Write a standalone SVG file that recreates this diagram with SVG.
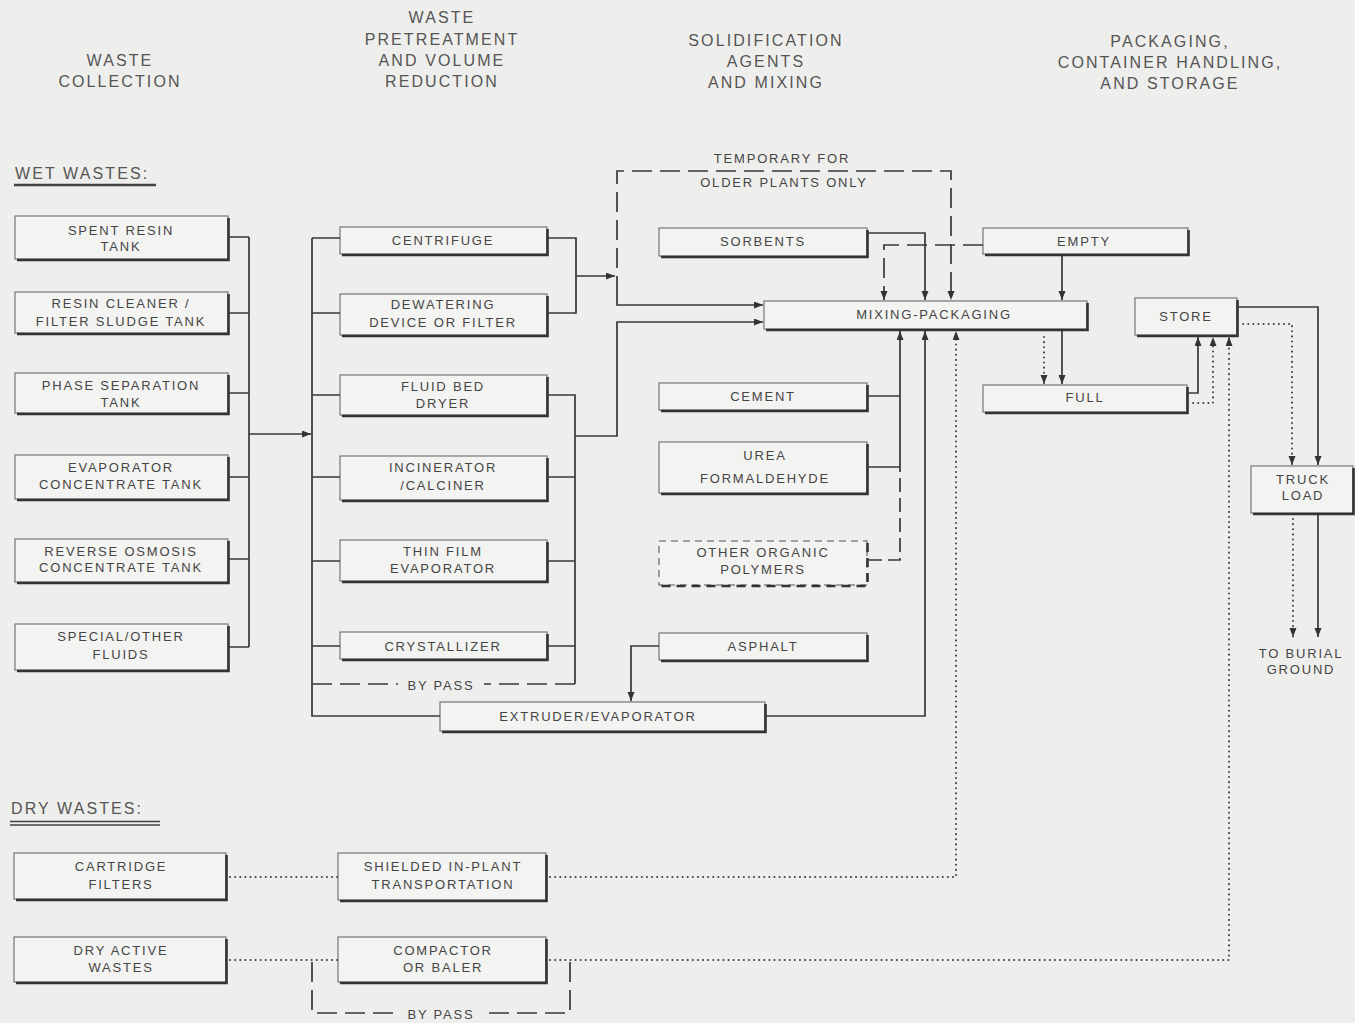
<svg xmlns="http://www.w3.org/2000/svg" width="1355" height="1023" viewBox="0 0 1355 1023">
<style>
  .bg{fill:#eeeeec}
  .node rect{fill:#f3f3f1;stroke:#6a6a6a;stroke-width:1.1}
  .node rect.dsh{stroke:#555;stroke-dasharray:7 5}
  .sh{fill:none;stroke:#333;stroke-width:2.6}
  .shd{fill:none;stroke:#333;stroke-width:2.6;stroke-dasharray:9 6}
  text{font-family:"Liberation Sans",Arial,sans-serif;fill:#454545}
  .t{font-size:13px;letter-spacing:1.8px;text-anchor:middle}
  .h{font-size:16px;letter-spacing:2.1px;text-anchor:middle;fill:#555}
  .lbl{font-size:16px;letter-spacing:2.1px;fill:#555}
  .c{fill:none;stroke:#383838;stroke-width:1.7}
  .d{fill:none;stroke:#383838;stroke-width:1.7;stroke-dasharray:20 8}
  .o{fill:none;stroke:#444;stroke-width:2;stroke-dasharray:0.1 5;stroke-linecap:round}
</style>
<defs>
  <marker id="arr" markerUnits="userSpaceOnUse" markerWidth="10" markerHeight="8" refX="9" refY="3.5" orient="auto">
    <path d="M0,0 L9,3.5 L0,7 z" fill="#333"/>
  </marker>
</defs>
<rect class="bg" x="0" y="0" width="1355" height="1023"/>

<!-- headers -->
<g id="headers">
  <text class="h" x="120" y="66">WASTE</text>
  <text class="h" x="120" y="87">COLLECTION</text>
  <text class="h" x="442" y="23">WASTE</text>
  <text class="h" x="442" y="45">PRETREATMENT</text>
  <text class="h" x="442" y="66">AND VOLUME</text>
  <text class="h" x="442" y="87">REDUCTION</text>
  <text class="h" x="766" y="46">SOLIDIFICATION</text>
  <text class="h" x="766" y="67">AGENTS</text>
  <text class="h" x="766" y="88">AND MIXING</text>
  <text class="h" x="1170" y="47">PACKAGING,</text>
  <text class="h" x="1170" y="68">CONTAINER HANDLING,</text>
  <text class="h" x="1170" y="89">AND STORAGE</text>
  <text class="lbl" x="15" y="179">WET WASTES:</text>
  <path d="M14,185 H156" stroke="#444" stroke-width="2.6" fill="none"/>
  <text class="lbl" x="11" y="814">DRY WASTES:</text>
  <path d="M10,821.5 H160 M10,825 H160" stroke="#444" stroke-width="1.3" fill="none"/>
  <text class="t" x="782" y="163">TEMPORARY FOR</text>
  <text class="t" x="784" y="187">OLDER PLANTS ONLY</text>
  <text class="t" x="1301" y="658">TO BURIAL</text>
  <text class="t" x="1301" y="674">GROUND</text>
</g>

<!-- wet wastes -->
<g id="n-spent-resin" class="node"><rect x="15" y="216" width="213" height="43"/><path class="sh" d="M228.5,218 V260 H17"/><text class="t" x="121" y="235">SPENT RESIN</text><text class="t" x="121" y="251">TANK</text></g>
<g id="n-resin-cleaner" class="node"><rect x="15" y="292" width="213" height="41"/><path class="sh" d="M228.5,294 V334 H17"/><text class="t" x="121" y="308">RESIN CLEANER /</text><text class="t" x="121" y="326">FILTER SLUDGE TANK</text></g>
<g id="n-phase-sep" class="node"><rect x="15" y="373" width="213" height="40"/><path class="sh" d="M228.5,375 V414 H17"/><text class="t" x="121" y="390">PHASE SEPARATION</text><text class="t" x="121" y="407">TANK</text></g>
<g id="n-evap-conc" class="node"><rect x="15" y="455" width="213" height="44"/><path class="sh" d="M228.5,457 V500 H17"/><text class="t" x="121" y="472">EVAPORATOR</text><text class="t" x="121" y="489">CONCENTRATE TANK</text></g>
<g id="n-ro-conc" class="node"><rect x="15" y="539" width="213" height="43"/><path class="sh" d="M228.5,541 V583 H17"/><text class="t" x="121" y="556">REVERSE OSMOSIS</text><text class="t" x="121" y="572">CONCENTRATE TANK</text></g>
<g id="n-special" class="node"><rect x="15" y="624" width="213" height="46"/><path class="sh" d="M228.5,626 V671 H17"/><text class="t" x="121" y="641">SPECIAL/OTHER</text><text class="t" x="121" y="659">FLUIDS</text></g>

<!-- pretreatment -->
<g id="n-centrifuge" class="node"><rect x="340" y="227" width="207" height="27"/><path class="sh" d="M547.5,229 V255 H342"/><text class="t" x="443" y="245">CENTRIFUGE</text></g>
<g id="n-dewatering" class="node"><rect x="340" y="294" width="207" height="41"/><path class="sh" d="M547.5,296 V336 H342"/><text class="t" x="443" y="309">DEWATERING</text><text class="t" x="443" y="327">DEVICE OR FILTER</text></g>
<g id="n-fluid-bed" class="node"><rect x="340" y="375" width="207" height="40"/><path class="sh" d="M547.5,377 V416 H342"/><text class="t" x="443" y="391">FLUID BED</text><text class="t" x="443" y="408">DRYER</text></g>
<g id="n-incinerator" class="node"><rect x="340" y="456" width="207" height="44"/><path class="sh" d="M547.5,458 V501 H342"/><text class="t" x="443" y="472">INCINERATOR</text><text class="t" x="443" y="490">/CALCINER</text></g>
<g id="n-thin-film" class="node"><rect x="340" y="540" width="207" height="41"/><path class="sh" d="M547.5,542 V582 H342"/><text class="t" x="443" y="556">THIN FILM</text><text class="t" x="443" y="573">EVAPORATOR</text></g>
<g id="n-crystallizer" class="node"><rect x="340" y="632" width="207" height="27"/><path class="sh" d="M547.5,634 V660 H342"/><text class="t" x="443" y="651">CRYSTALLIZER</text></g>
<g id="n-extruder" class="node"><rect x="440" y="702" width="325" height="29"/><path class="sh" d="M765.5,704 V732 H442"/><text class="t" x="598" y="721">EXTRUDER/EVAPORATOR</text></g>

<!-- solidification agents -->
<g id="n-sorbents" class="node"><rect x="659" y="228" width="208" height="28"/><path class="sh" d="M867.5,230 V257 H661"/><text class="t" x="763" y="246">SORBENTS</text></g>
<g id="n-mixing" class="node"><rect x="764" y="301" width="323" height="28"/><path class="sh" d="M1087.5,303 V330 H766"/><text class="t" x="934" y="319">MIXING-PACKAGING</text></g>
<g id="n-cement" class="node"><rect x="659" y="383" width="208" height="27"/><path class="sh" d="M867.5,385 V411 H661"/><text class="t" x="763" y="401">CEMENT</text></g>
<g id="n-urea" class="node"><rect x="659" y="442" width="208" height="51"/><path class="sh" d="M867.5,444 V494 H661"/><text class="t" x="765" y="460">UREA</text><text class="t" x="765" y="483">FORMALDEHYDE</text></g>
<g id="n-other-polymers" class="node"><rect class="dsh" x="659" y="541" width="208" height="44"/><path class="shd" d="M867.5,543 V586 H661"/><text class="t" x="763" y="557">OTHER ORGANIC</text><text class="t" x="763" y="574">POLYMERS</text></g>
<g id="n-asphalt" class="node"><rect x="659" y="633" width="208" height="27"/><path class="sh" d="M867.5,635 V661 H661"/><text class="t" x="763" y="651">ASPHALT</text></g>

<!-- packaging -->
<g id="n-empty" class="node"><rect x="983" y="228" width="205" height="26"/><path class="sh" d="M1188.5,230 V255 H985"/><text class="t" x="1084" y="246">EMPTY</text></g>
<g id="n-full" class="node"><rect x="983" y="385" width="204" height="27"/><path class="sh" d="M1187.5,387 V413 H985"/><text class="t" x="1085" y="402">FULL</text></g>
<g id="n-store" class="node"><rect x="1135" y="298" width="102" height="37"/><path class="sh" d="M1237.5,300 V336 H1137"/><text class="t" x="1186" y="321">STORE</text></g>
<g id="n-truck" class="node"><rect x="1251" y="466" width="102" height="47"/><path class="sh" d="M1353.5,468 V514 H1253"/><text class="t" x="1303" y="484">TRUCK</text><text class="t" x="1303" y="500">LOAD</text></g>

<!-- dry wastes -->
<g id="n-cartridge" class="node"><rect x="14" y="853" width="212" height="46"/><path class="sh" d="M226.5,855 V900 H16"/><text class="t" x="121" y="871">CARTRIDGE</text><text class="t" x="121" y="889">FILTERS</text></g>
<g id="n-dry-active" class="node"><rect x="14" y="937" width="212" height="45"/><path class="sh" d="M226.5,939 V983 H16"/><text class="t" x="121" y="955">DRY ACTIVE</text><text class="t" x="121" y="972">WASTES</text></g>
<g id="n-shielded" class="node"><rect x="338" y="853" width="208" height="47"/><path class="sh" d="M546.5,855 V901 H340"/><text class="t" x="443" y="871">SHIELDED IN-PLANT</text><text class="t" x="443" y="889">TRANSPORTATION</text></g>
<g id="n-compactor" class="node"><rect x="338" y="937" width="208" height="45"/><path class="sh" d="M546.5,939 V983 H340"/><text class="t" x="443" y="955">COMPACTOR</text><text class="t" x="443" y="972">OR BALER</text></g>

<g id="connectors">
  <!-- wet collection bus -->
  <path class="c" d="M229,237 H249 M229,313 H249 M229,393 H249 M229,477 H249 M229,559 H249 M229,647 H249 M249,237 V647"/>
  <path class="c" d="M249,434 H311" marker-end="url(#arr)"/>
  <!-- pretreatment input bus -->
  <path class="c" d="M312,238 V716 H440 M312,238 H340 M312,313 H340 M312,395 H340 M312,477 H340 M312,561 H340 M312,646 H340"/>
  <!-- centrifuge / dewatering output -->
  <path class="c" d="M548,238 H576 V313 H548"/>
  <path class="c" d="M576,276 H615" marker-end="url(#arr)"/>
  <path class="c" d="M617,276 V305 H763" marker-end="url(#arr)"/>
  <!-- other pretreatment output bus -->
  <path class="c" d="M548,395 H575 V684 M548,477 H575 M548,561 H575 M548,646 H575"/>
  <path class="c" d="M575,436 H617 V322 H763" marker-end="url(#arr)"/>
  <!-- bypass -->
  <path class="d" d="M312,684 H398"/>
  <path class="d" d="M575,684 H484"/>
  <text class="t" x="441" y="690">BY PASS</text>
  <!-- temporary for older plants -->
  <path class="d" d="M617,268 V171 H951 V300" marker-end="url(#arr)"/>
  <!-- sorbents -->
  <path class="c" d="M868,233 H925 V300" marker-end="url(#arr)"/>
  <!-- empty to mixing (dashed) -->
  <path class="d" d="M983,245 H884 V300" marker-end="url(#arr)"/>
  <path class="c" d="M1062,255 V300" marker-end="url(#arr)"/>
  <!-- cement, urea, polymers -->
  <path class="c" d="M868,396 H900 M868,467 H900"/>
  <path class="c" d="M900,467 V331" marker-end="url(#arr)"/>
  <path class="d" d="M868,560 H900 V467" style="stroke-dasharray:14 6"/>
  <!-- asphalt -->
  <path class="c" d="M659,646 H631 V701" marker-end="url(#arr)"/>
  <!-- extruder -->
  <path class="c" d="M766,716 H925 V331" marker-end="url(#arr)"/>
  <!-- mixing to full -->
  <path class="c" d="M1062,331 V384" marker-end="url(#arr)"/>
  <path class="o" d="M1044,337 V384" marker-end="url(#arr)"/>
  <!-- full to store -->
  <path class="c" d="M1188,393 H1198 V337" marker-end="url(#arr)"/>
  <path class="o" d="M1188,403 H1213 V337" marker-end="url(#arr)"/>
  <!-- store to truck -->
  <path class="c" d="M1238,307 H1318 V465" marker-end="url(#arr)"/>
  <path class="o" d="M1238,324 H1292 V465" marker-end="url(#arr)"/>
  <!-- truck to burial -->
  <path class="c" d="M1318,514 V637" marker-end="url(#arr)"/>
  <path class="o" d="M1293,519 V637" marker-end="url(#arr)"/>
  <!-- dry wastes -->
  <path class="o" d="M230,877 H338"/>
  <path class="o" d="M230,960 H338"/>
  <path class="o" d="M550,877 H956 V331" marker-end="url(#arr)"/>
  <path class="o" d="M550,960 H1229 V337" marker-end="url(#arr)"/>
  <path class="d" d="M312,962 V1013 H400"/>
  <path class="d" d="M570,962 V1013 H482"/>
  <text class="t" x="441" y="1019">BY PASS</text>
</g>
</svg>
